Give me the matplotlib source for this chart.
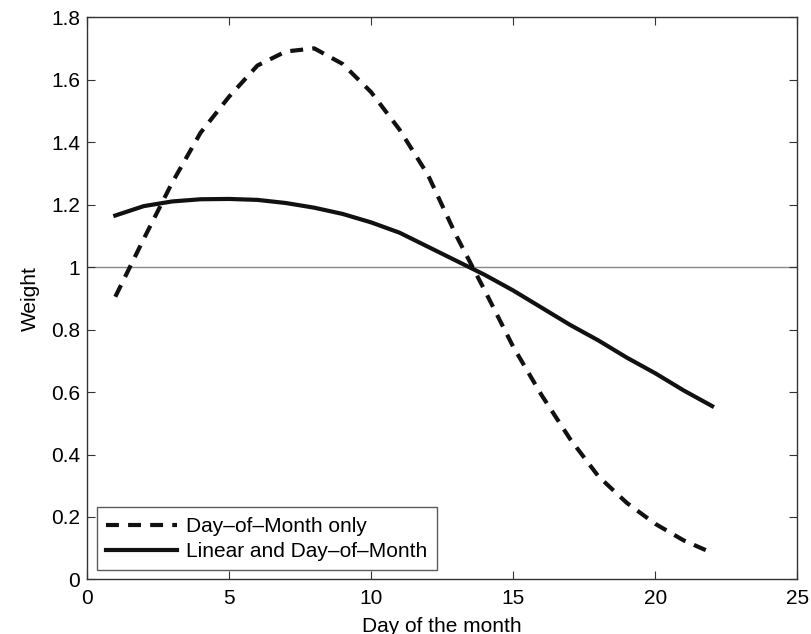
import matplotlib
matplotlib.use('Agg')
import matplotlib.pyplot as plt

plt.rcParams['font.family'] = ['Liberation Sans', 'DejaVu Sans']

days = list(range(1, 23))

# Day-of-Month only weights (dashed)
dom_only = [0.905, 1.09, 1.27, 1.43, 1.545, 1.645, 1.69, 1.70, 1.65, 1.56, 1.44,
            1.295, 1.10, 0.925, 0.745, 0.59, 0.45, 0.33, 0.245, 0.178, 0.125, 0.085]

# Linear and Day-of-Month weights (solid)
lin_dom = [1.165, 1.195, 1.21, 1.217, 1.218, 1.215, 1.205, 1.19, 1.17, 1.143, 1.11,
           1.065, 1.02, 0.975, 0.925, 0.87, 0.815, 0.765, 0.71, 0.66, 0.605, 0.555]

x_ticks = [0, 5, 10, 15, 20, 25]
y_ticks = [0, 0.2, 0.4, 0.6, 0.8, 1, 1.2, 1.4, 1.6, 1.8]
y_tick_labels = ['0', '0.2', '0.4', '0.6', '0.8', '1', '1.2', '1.4', '1.6', '1.8']

fig = plt.figure(figsize=(8.12, 6.34), dpi=100)
ax = fig.add_axes([0.107, 0.086, 0.875, 0.887])

ax.axhline(1.0, color='#888888', lw=1.0, zorder=1)
ax.plot(days, dom_only, color='#111111', lw=3.0, dashes=(3.1, 2.2),
        label='Day\u2013of\u2013Month only', zorder=3)
ax.plot(days, lin_dom, color='#111111', lw=3.0,
        label='Linear and Day\u2013of\u2013Month', zorder=3)

ax.set_xlim(0, 25)
ax.set_ylim(0, 1.8)
ax.set_xticks(x_ticks)
ax.set_yticks(y_ticks)
ax.set_yticklabels(y_tick_labels)
ax.tick_params(direction='in', top=True, right=True, length=6, width=0.8,
               labelsize=15, color='#333333')
ax.tick_params(axis='x', pad=7)
ax.tick_params(axis='y', pad=5)
for sp in ax.spines.values():
    sp.set_color('#333333')
    sp.set_linewidth(1.0)

ax.set_xlabel('Day of the month', fontsize=15, labelpad=6)
ax.set_ylabel('Weight', fontsize=15, labelpad=8)

leg = ax.legend(loc='lower left', fontsize=15, frameon=True, fancybox=False,
                edgecolor='#333333', handlelength=3.4, borderpad=0.45,
                labelspacing=0.3, handletextpad=0.45, borderaxespad=0,
                bbox_to_anchor=(0.014, 0.016))
leg.get_frame().set_linewidth(1.0)

fig.savefig('out.png', dpi=100)
